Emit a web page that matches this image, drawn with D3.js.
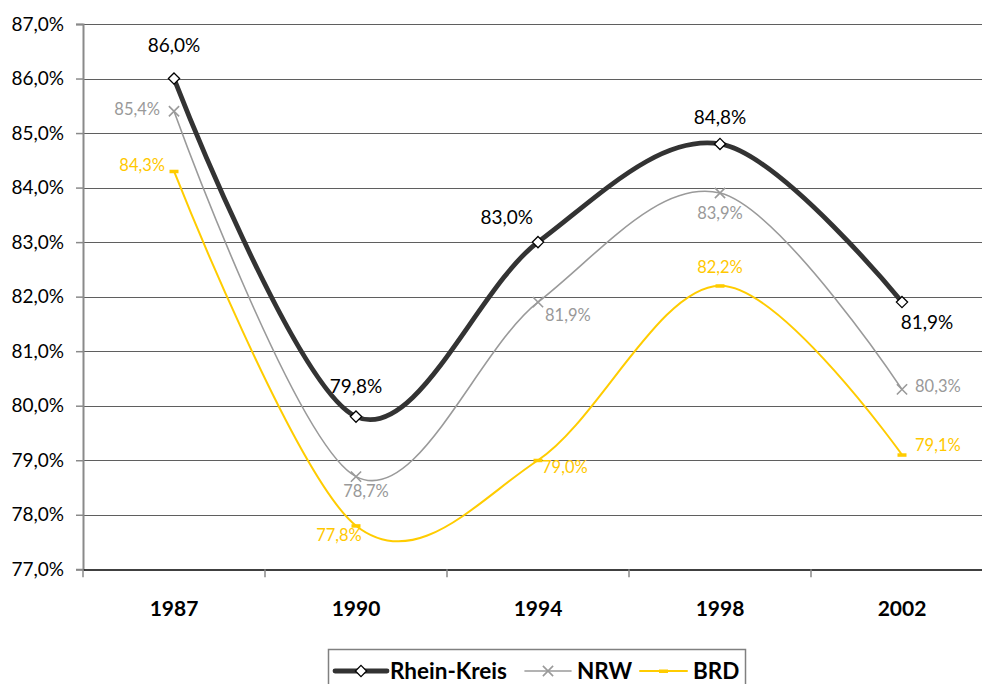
<!DOCTYPE html>
<html>
<head>
<meta charset="utf-8">
<script src="https://cdn.jsdelivr.net/npm/d3@7"></script>
<style>
  html, body { margin: 0; padding: 0; background: #fff; }
  svg { display: block; }
</style>
</head>
<body>
<svg id="chart" width="982" height="684"></svg>
<script>
const years = ["1987", "1990", "1994", "1998", "2002"];
const rheinKreis = [86.0, 79.8, 83.0, 84.8, 81.9];
const nrw = [85.4, 78.7, 81.9, 83.9, 80.3];
const brd = [84.3, 77.8, 79.0, 82.2, 79.1];
const yTicks = [77, 78, 79, 80, 81, 82, 83, 84, 85, 86, 87];
const seriesNames = ["Rhein-Kreis", "NRW", "BRD"];

// label placement (style only)
const labelPlace = {
  "Rhein-Kreis": [[0, -31, "middle"], [0, -28, "middle"], [-5, -23, "end"], [0, -25, "middle"], [25, 22, "middle"]],
  "NRW": [[-14, 0, "end"], [10, 16, "middle"], [7, 15, "start"], [0, 22, "middle"], [13, -2, "start"]],
  "BRD": [[-9, -4, "end"], [-17, 11, "middle"], [4, 9, "start"], [0, -17, "middle"], [13, -8, "start"]]
};

const svg = d3.select("#chart");
const FONT = "Lato, 'Open Sans', sans-serif";
const x = d3.scaleBand().domain(years).range([83, 993]).padding(0);
const y = d3.scaleLinear().domain([77, 87]).range([569.3, 24]);
const cx = d => x(d) + x.bandwidth() / 2;
const fmt = v => v.toFixed(1).replace(".", ",") + "%";

// gridlines
svg.append("g").selectAll("line").data(yTicks.filter(t => t !== 77)).join("line")
  .attr("x1", 83).attr("x2", 993)
  .attr("y1", d => Math.round(y(d)) + 0.5).attr("y2", d => Math.round(y(d)) + 0.5)
  .attr("stroke", "#5f5f5f").attr("stroke-width", 1.2);

// y axis
const yAxis = svg.append("g").attr("transform", "translate(83,0)")
  .call(d3.axisLeft(y).tickValues(yTicks).tickSize(7).tickPadding(12).tickFormat(fmt));
yAxis.select(".domain").attr("stroke", "#8a8a8a").attr("stroke-width", 2);
yAxis.selectAll(".tick line").attr("stroke", "#8a8a8a").attr("stroke-width", 1.5);
yAxis.selectAll("text").attr("font-family", FONT).attr("font-size", 19).attr("fill", "#000");

// x axis
const xAxis = svg.append("g").attr("transform", `translate(0,${Math.round(y(77)) + 0.5})`)
  .call(d3.axisBottom(x).tickSize(0).tickPadding(32));
xAxis.select(".domain").attr("stroke", "#000").attr("stroke-width", 1.5);
xAxis.selectAll("text").attr("font-family", FONT).attr("font-size", 21)
  .attr("font-weight", "bold").attr("fill", "#000");
// category boundary tick marks
svg.append("g").selectAll("line").data(years).join("line")
  .attr("x1", d => x(d)).attr("x2", d => x(d))
  .attr("y1", y(77)).attr("y2", y(77) + 8)
  .attr("stroke", "#8a8a8a").attr("stroke-width", 1.5);

const series = [
  { name: "Rhein-Kreis", values: rheinKreis, color: "#333333", width: 4.8, labelColor: "#000", fs: 19 },
  { name: "NRW", values: nrw, color: "#9a9a9a", width: 1.6, labelColor: "#999999", fs: 16.5 },
  { name: "BRD", values: brd, color: "#ffcc00", width: 2, labelColor: "#ffc800", fs: 16.5 }
];

const line = d3.line().x((d, i) => cx(years[i])).y(d => y(d)).curve(d3.curveCardinal.tension(0));

function drawMarker(g, name, px, py) {
  if (name === "Rhein-Kreis") {
    g.append("path").attr("d", d3.symbol(d3.symbolDiamond2, 80)())
      .attr("transform", `translate(${px},${py})`)
      .attr("fill", "#fff").attr("stroke", "#000").attr("stroke-width", 1.3);
  } else if (name === "NRW") {
    g.append("path").attr("d", d3.symbol(d3.symbolX, 70)())
      .attr("transform", `translate(${px},${py})`)
      .attr("fill", "none").attr("stroke", "#9a9a9a").attr("stroke-width", 1.6);
  } else {
    g.append("rect").attr("x", px - 4.5).attr("y", py - 1.5).attr("width", 9).attr("height", 3.5)
      .attr("fill", "#ffcc00");
  }
}

function drawMarkers(g, s) {
  s.values.forEach((v, i) => drawMarker(g, s.name, cx(years[i]), y(v)));
}

// draw in order BRD, NRW, Rhein-Kreis so the dark line is on top
[...series].reverse().forEach(s => {
  const g = svg.append("g");
  g.append("path").datum(s.values).attr("d", line)
    .attr("fill", "none").attr("stroke", s.color).attr("stroke-width", s.width)
    .attr("stroke-linejoin", "round").attr("stroke-linecap", "round");
  drawMarkers(g, s);
});

// data labels
series.forEach(s => {
  svg.append("g").selectAll("text").data(s.values).join("text")
    .attr("x", (d, i) => cx(years[i]) + labelPlace[s.name][i][0])
    .attr("y", (d, i) => y(d) + labelPlace[s.name][i][1])
    .attr("text-anchor", (d, i) => labelPlace[s.name][i][2])
    .attr("dominant-baseline", "middle")
    .attr("font-family", FONT).attr("font-size", s.fs).attr("fill", s.labelColor)
    .text(fmt);
});

// legend
const lg = svg.append("g");
lg.append("rect").attr("x", 328.5).attr("y", 649.5).attr("width", 417).attr("height", 60)
  .attr("fill", "#fff").attr("stroke", "#808080").attr("stroke-width", 1.5);
const legendItems = [
  { s: series[0], x1: 335, x2: 387, tx: 390 },
  { s: series[1], x1: 525, x2: 571, tx: 577 },
  { s: series[2], x1: 640, x2: 687, tx: 693 }
];
const ly = 671;
legendItems.forEach(it => {
  lg.append("line").attr("x1", it.x1).attr("x2", it.x2).attr("y1", ly).attr("y2", ly)
    .attr("stroke", it.s.color).attr("stroke-width", it.s.width).attr("stroke-linecap", "round");
  drawMarker(lg, it.s.name, (it.x1 + it.x2) / 2, ly);
  lg.append("text").attr("x", it.tx).attr("y", ly + 2).attr("dominant-baseline", "middle")
    .attr("font-family", FONT).attr("font-size", 22.5).attr("font-weight", "bold").attr("fill", "#000")
    .text(it.s.name);
});
</script>
</body>
</html>
